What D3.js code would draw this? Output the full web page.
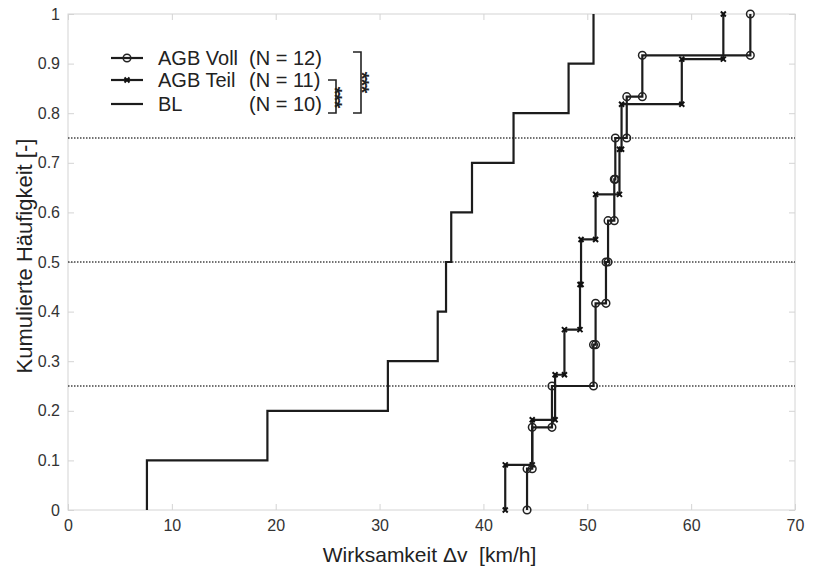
<!DOCTYPE html>
<html>
<head>
<meta charset="utf-8">
<script src="https://cdn.jsdelivr.net/npm/d3@7"></script>
<style>
body { margin: 0; background: #fff; }
text { font-family: "Liberation Sans", Arial, sans-serif; }
</style>
</head>
<body>
<script>
// sorted measurements per group (km/h)
var vollValues = [44.2, 44.7, 46.6, 50.6, 50.8, 51.8, 52.0, 52.6, 52.7, 53.8, 55.3, 65.7];
var teilValues = [42.1, 44.7, 46.9, 47.8, 49.3, 49.4, 50.8, 53.1, 53.3, 59.1, 63.1];
var blValues = [7.6, 19.2, 30.8, 35.6, 36.4, 36.9, 38.9, 42.9, 48.2, 50.6];
var refLevels = [0.25, 0.5, 0.75];
var xTicks = [0, 10, 20, 30, 40, 50, 60, 70];
var yTicks = [0, 0.1, 0.2, 0.3, 0.4, 0.5, 0.6, 0.7, 0.8, 0.9, 1];
var legendNames = ["AGB Voll", "AGB Teil", "BL"];
var legendN = ["(N = 12)", "(N = 11)", "(N = 10)"];

// set the dimensions and margins of the graph
var margin = {top: 14, right: 26, bottom: 63, left: 68},
    width = 821 - margin.left - margin.right,
    height = 573 - margin.top - margin.bottom;

var x = d3.scaleLinear().domain([0, 70]).range([0, width]);
var y = d3.scaleLinear().domain([0, 1]).range([height, 0]);

var svg = d3.select("body").append("svg")
    .attr("width", width + margin.left + margin.right)
    .attr("height", height + margin.top + margin.bottom)
  .append("g")
    .attr("transform", "translate(" + margin.left + "," + margin.top + ")");

// frame
svg.append("rect")
    .attr("width", width).attr("height", height)
    .attr("fill", "none").attr("stroke", "#d4d4d4");

// axes, ticks pointing inward
function styleAxis(g) {
  g.select(".domain").remove();
  g.selectAll(".tick line").attr("stroke", "#d4d4d4");
  g.selectAll(".tick text").attr("fill", "#333").attr("font-size", "16px")
    .attr("font-family", "Liberation Sans, Arial, sans-serif");
}
var yFmt = function(d) { return (d === 0 || d === 1) ? String(d) : d3.format(".1f")(d); };

svg.append("g").attr("transform", "translate(0," + height + ")")
  .call(d3.axisBottom(x).tickValues(xTicks).tickSize(-6).tickPadding(10))
  .call(styleAxis);
svg.append("g")
  .call(d3.axisTop(x).tickValues(xTicks).tickSize(-6).tickFormat(""))
  .call(styleAxis);
svg.append("g")
  .call(d3.axisLeft(y).tickValues(yTicks).tickSize(-6).tickPadding(8).tickFormat(yFmt))
  .call(styleAxis);
svg.append("g").attr("transform", "translate(" + width + ",0)")
  .call(d3.axisRight(y).tickValues(yTicks).tickSize(-6).tickFormat(""))
  .call(styleAxis);

// reference quartile lines
svg.selectAll(".ref").data(refLevels).enter().append("line")
    .attr("class", "ref")
    .attr("x1", 0).attr("x2", width)
    .attr("y1", function(d) { return y(d); })
    .attr("y2", function(d) { return y(d); })
    .attr("stroke", "#444").attr("stroke-width", 1.6)
    .attr("stroke-dasharray", "1.5,1.5");

// empirical cdf as stairs
function stairs(vals) {
  var n = vals.length, pts = [];
  vals.forEach(function(v, i) {
    pts.push([v, i / n]);
    pts.push([v, (i + 1) / n]);
  });
  return pts;
}
var line = d3.line()
    .x(function(d) { return x(d[0]); })
    .y(function(d) { return y(d[1]); });

function xMark(sel, s) {
  sel.append("path")
    .attr("d", "M" + (-s) + "," + (-s) + "L" + s + "," + s + "M" + (-s) + "," + s + "L" + s + "," + (-s))
    .attr("stroke", "#111").attr("stroke-width", 2).attr("fill", "none");
}
function oMark(sel, r) {
  sel.append("circle").attr("r", r)
    .attr("fill", "none").attr("stroke", "#222").attr("stroke-width", 1.5);
}

var series = [
  {vals: blValues, mark: null},
  {vals: teilValues, mark: "x"},
  {vals: vollValues, mark: "o"}
];
series.forEach(function(s) {
  var pts = stairs(s.vals);
  svg.append("path").datum(pts)
    .attr("d", line)
    .attr("fill", "none").attr("stroke", "#1c1c1c").attr("stroke-width", 2.2);
  if (s.mark) {
    var g = svg.selectAll(null).data(pts).enter().append("g")
      .attr("transform", function(d) { return "translate(" + x(d[0]) + "," + y(d[1]) + ")"; });
    if (s.mark === "x") xMark(g, 2.5); else oMark(g, 3.8);
  }
});

// legend
var leg = svg.append("g").attr("transform", "translate(" + (111 - margin.left) + "," + (58 - margin.top) + ")");
var legMarks = ["o", "x", null];
legendNames.forEach(function(name, i) {
  var yy = [0, 22, 46][i];
  leg.append("line").attr("x1", 0).attr("x2", 32).attr("y1", yy).attr("y2", yy)
    .attr("stroke", "#1c1c1c").attr("stroke-width", 2.2);
  var m = leg.append("g").attr("transform", "translate(16," + yy + ")");
  if (legMarks[i] === "o") oMark(m, 3.8);
  if (legMarks[i] === "x") xMark(m, 2.5);
  leg.append("text").attr("x", 47).attr("y", yy).attr("dy", "0.35em")
    .attr("font-size", "20px").attr("fill", "#222").text(name);
  leg.append("text").attr("x", 138).attr("y", yy).attr("dy", "0.35em")
    .attr("font-size", "20px").attr("fill", "#222").text(legendN[i]);
});

// significance brackets
var brk = svg.append("g").attr("stroke", "#222").attr("stroke-width", 1.6).attr("fill", "none");
brk.append("path").attr("d", "M" + (328 - margin.left) + "," + (80 - margin.top) + "H" + (336 - margin.left) +
  "V" + (113 - margin.top) + "H" + (328 - margin.left));
brk.append("path").attr("d", "M" + (353 - margin.left) + "," + (52 - margin.top) + "H" + (361 - margin.left) +
  "V" + (113 - margin.top) + "H" + (353 - margin.left));
[[340, 97], [367, 82]].forEach(function(p) {
  svg.append("text")
    .attr("transform", "translate(" + (p[0] - margin.left) + "," + (p[1] - margin.top) + ") rotate(90)")
    .attr("text-anchor", "middle").attr("dy", "0.6em")
    .attr("font-size", "20px").attr("font-weight", "bold").attr("fill", "#222")
    .attr("letter-spacing", "-1px")
    .text("***");
});

// axis labels
svg.append("text")
    .attr("x", width / 2 - 2).attr("y", height + 52)
    .attr("text-anchor", "middle")
    .attr("font-size", "21px").attr("fill", "#222")
    .text("Wirksamkeit \u0394v\u00a0 [km/h]");
svg.append("text")
    .attr("transform", "translate(" + (24 - margin.left) + "," + (height / 2 - 6) + ") rotate(-90)")
    .attr("text-anchor", "middle").attr("dy", "0.35em")
    .attr("font-size", "22px").attr("fill", "#222")
    .text("Kumulierte Häufigkeit [-]");
</script>
</body>
</html>
